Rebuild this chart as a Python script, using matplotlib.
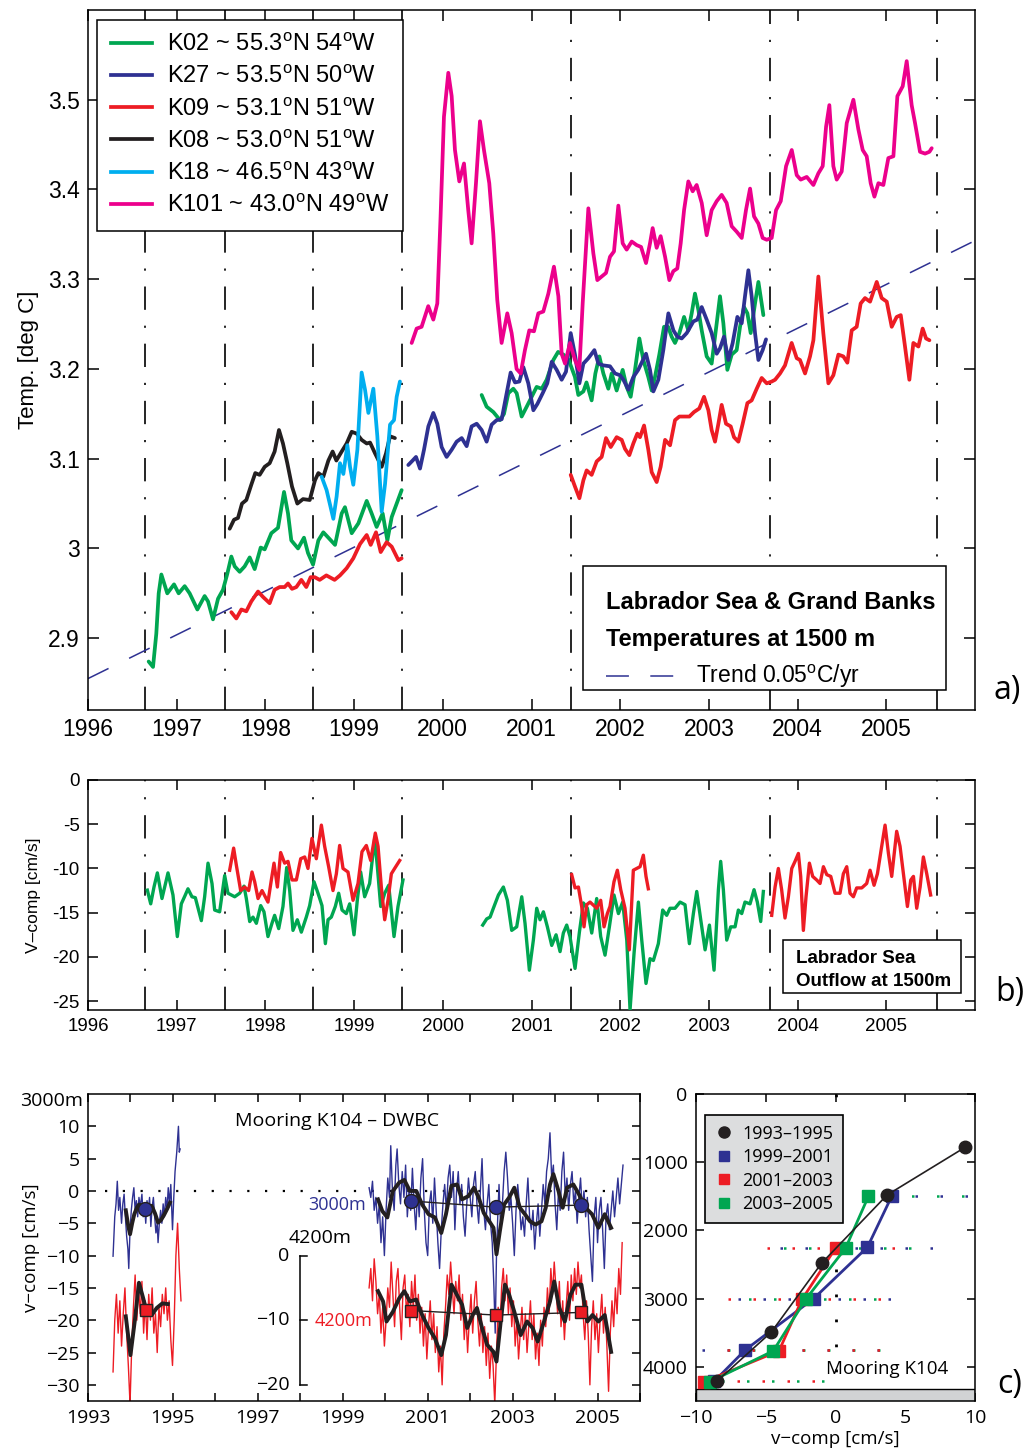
import numpy as np
import matplotlib
matplotlib.use('Agg')
import matplotlib.pyplot as plt
from matplotlib.lines import Line2D
from matplotlib.patches import Rectangle

plt.rcParams['font.family'] = ['Liberation Sans', 'DejaVu Sans']
plt.rcParams['mathtext.fontset'] = 'custom'
plt.rcParams['mathtext.rm'] = 'Liberation Sans'
plt.rcParams['mathtext.it'] = 'Liberation Sans:italic'
plt.rcParams['mathtext.bf'] = 'Liberation Sans:bold'
HUM = ['Open Sans', 'DejaVu Sans']

GREEN = '#00a651'; NAVY = '#2e3192'; RED = '#ed1c24'; BLACK = '#231f20'
CYAN = '#00aeef'; PINK = '#ec008c'

# ---------------- panel a: temperatures at 1500 m ----------------
K02_a = [(1996.684,2.874),(1996.733,2.868),(1996.77,2.905),(1996.797,2.950),(1996.827,2.971),(1996.894,2.950),
         (1996.97,2.960),(1997.022,2.950),(1997.09,2.958),(1997.146,2.950),(1997.233,2.932),(1997.315,2.947),
         (1997.353,2.941),(1997.409,2.921),(1997.466,2.944),(1997.522,2.954),(1997.571,2.972),(1997.616,2.991),
         (1997.654,2.980),(1997.71,2.974),(1997.766,2.980),(1997.823,2.990),(1997.879,2.977),(1997.947,3.001),
         (1997.992,2.999),(1998.067,3.017),(1998.142,3.023),(1998.21,3.063),(1998.255,3.039),(1998.292,3.009),
         (1998.368,3.000),(1998.435,3.012),(1998.48,2.995),(1998.537,2.982),(1998.597,3.009),(1998.653,3.018),
         (1998.71,3.012),(1998.785,3.004),(1998.86,3.039),(1998.897,3.046),(1998.973,3.017),(1999.048,3.028),
         (1999.142,3.053),(1999.198,3.039),(1999.254,3.024),(1999.322,3.039),(1999.375,3.009),(1999.424,3.035),
         (1999.48,3.050),(1999.536,3.065)]
K02_b = [(2000.438,3.171),(2000.494,3.158),(2000.57,3.152),(2000.645,3.143),(2000.69,3.150),(2000.739,3.173),
         (2000.795,3.178),(2000.833,3.173),(2000.889,3.147),(2000.946,3.158),(2001.002,3.169),(2001.058,3.180),
         (2001.115,3.178),(2001.171,3.188),(2001.246,3.210),(2001.30,3.219),(2001.36,3.216),(2001.42,3.210),
         (2001.49,3.191),(2001.528,3.171),(2001.585,3.175),(2001.62,3.185),(2001.678,3.165),(2001.72,3.195),
         (2001.765,3.214),(2001.81,3.195),(2001.866,3.178),(2001.904,3.195),(2001.96,3.176),(2002.028,3.199),
         (2002.073,3.180),(2002.118,3.169),(2002.167,3.199),(2002.216,3.234),(2002.261,3.210),(2002.317,3.191),
         (2002.355,3.176),(2002.392,3.191),(2002.441,3.216),(2002.494,3.247),(2002.54,3.247),(2002.58,3.236),
         (2002.618,3.229),(2002.667,3.240),(2002.72,3.258),(2002.768,3.243),(2002.806,3.262),(2002.843,3.284),
         (2002.881,3.266),(2002.919,3.243),(2002.975,3.214),(2003.031,3.206),(2003.088,3.251),(2003.125,3.281),
         (2003.163,3.251),(2003.208,3.199),(2003.257,3.216),(2003.313,3.221),(2003.351,3.247),(2003.396,3.269),
         (2003.434,3.262),(2003.471,3.240),(2003.52,3.273),(2003.558,3.297),(2003.595,3.273),(2003.614,3.260)]
K27 = [(1999.611,3.093),(1999.66,3.098),(1999.698,3.102),(1999.743,3.089),(1999.788,3.110),(1999.837,3.136),
       (1999.893,3.151),(1999.938,3.139),(1999.987,3.113),(2000.043,3.102),(2000.1,3.110),(2000.156,3.119),
       (2000.213,3.123),(2000.269,3.114),(2000.325,3.136),(2000.382,3.139),(2000.438,3.132),(2000.494,3.119),
       (2000.551,3.138),(2000.607,3.143),(2000.664,3.144),(2000.72,3.173),(2000.765,3.196),(2000.814,3.185),
       (2000.863,3.186),(2000.908,3.202),(2000.964,3.184),(2001.021,3.154),(2001.066,3.161),(2001.126,3.173),
       (2001.178,3.184),(2001.228,3.208),(2001.284,3.199),(2001.34,3.188),(2001.389,3.197),(2001.442,3.240),
       (2001.49,3.216),(2001.54,3.184),(2001.585,3.206),(2001.641,3.212),(2001.709,3.221),(2001.754,3.206),
       (2001.81,3.204),(2001.885,3.203),(2001.942,3.195),(2001.998,3.193),(2002.036,3.188),(2002.092,3.177),
       (2002.148,3.191),(2002.203,3.199),(2002.291,3.217),(2002.336,3.199),(2002.374,3.175),(2002.43,3.188),
       (2002.486,3.221),(2002.543,3.262),(2002.6,3.243),(2002.644,3.236),(2002.693,3.234),(2002.75,3.240),
       (2002.825,3.253),(2002.87,3.255),(2002.919,3.269),(2002.975,3.255),(2003.031,3.240),(2003.088,3.217),
       (2003.125,3.223),(2003.17,3.236),(2003.219,3.210),(2003.268,3.229),(2003.321,3.258),(2003.37,3.251),
       (2003.407,3.281),(2003.445,3.310),(2003.482,3.281),(2003.52,3.240),(2003.558,3.210),(2003.606,3.221),
       (2003.644,3.233)]
K09_a = [(1997.616,2.929),(1997.672,2.922),(1997.729,2.932),(1997.785,2.930),(1997.841,2.941),(1997.917,2.952),
         (1997.973,2.946),(1998.048,2.939),(1998.104,2.954),(1998.161,2.957),(1998.217,2.957),(1998.255,2.961),
         (1998.3,2.955),(1998.349,2.957),(1998.405,2.965),(1998.461,2.957),(1998.51,2.968),(1998.556,2.968),
         (1998.612,2.965),(1998.687,2.970),(1998.78,2.965),(1998.841,2.970),(1998.916,2.978),(1998.991,2.989),
         (1999.067,3.005),(1999.142,3.015),(1999.187,3.004),(1999.247,3.018),(1999.3,2.996),(1999.367,3.007),
         (1999.424,3.002),(1999.499,2.987),(1999.536,2.989)]
K09_b = [(2001.442,3.082),(2001.49,3.069),(2001.54,3.056),(2001.585,3.076),(2001.622,3.087),(2001.678,3.082),
         (2001.735,3.097),(2001.791,3.102),(2001.84,3.123),(2001.893,3.113),(2001.96,3.124),(2002.017,3.121),
         (2002.054,3.111),(2002.103,3.104),(2002.148,3.117),(2002.193,3.128),(2002.223,3.124),(2002.269,3.137),
         (2002.317,3.110),(2002.355,3.085),(2002.411,3.074),(2002.456,3.091),(2002.506,3.121),(2002.562,3.115),
         (2002.618,3.143),(2002.667,3.147),(2002.72,3.147),(2002.78,3.147),(2002.832,3.152),(2002.892,3.156),
         (2002.945,3.169),(2002.994,3.154),(2003.031,3.132),(2003.069,3.119),(2003.107,3.139),(2003.144,3.160),
         (2003.193,3.139),(2003.246,3.136),(2003.283,3.124),(2003.332,3.119),(2003.381,3.139),(2003.434,3.162),
         (2003.482,3.165),(2003.539,3.178),(2003.595,3.190),(2003.652,3.184),(2003.708,3.186),(2003.746,3.188),
         (2003.802,3.195),(2003.858,3.204),(2003.933,3.229),(2003.99,3.212),(2004.027,3.210),(2004.084,3.195),
         (2004.14,3.214),(2004.178,3.232),(2004.234,3.303),(2004.29,3.240),(2004.347,3.184),(2004.403,3.193),
         (2004.46,3.216),(2004.516,3.214),(2004.561,3.207),(2004.61,3.243),(2004.666,3.247),(2004.711,3.273),
         (2004.76,3.279),(2004.817,3.275),(2004.892,3.297),(2004.948,3.279),(2005.005,3.275),(2005.061,3.247),
         (2005.117,3.258),(2005.163,3.260),(2005.211,3.225),(2005.26,3.188),(2005.305,3.229),(2005.362,3.225),
         (2005.41,3.245),(2005.448,3.234),(2005.486,3.232)]
K08 = [(1997.597,3.022),(1997.646,3.032),(1997.691,3.034),(1997.736,3.050),(1997.785,3.054),(1997.841,3.071),
       (1997.886,3.084),(1997.935,3.082),(1997.992,3.091),(1998.048,3.095),(1998.104,3.108),(1998.153,3.132),
       (1998.198,3.117),(1998.247,3.095),(1998.3,3.069),(1998.36,3.050),(1998.424,3.055),(1998.5,3.054),
       (1998.559,3.076),(1998.597,3.084),(1998.653,3.080),(1998.71,3.098),(1998.758,3.108),(1998.8,3.098),
       (1998.86,3.108),(1998.916,3.117),(1998.973,3.130),(1999.029,3.128),(1999.085,3.121),(1999.142,3.117),
       (1999.18,3.118),(1999.236,3.106),(1999.311,3.091),(1999.36,3.106),(1999.405,3.125),(1999.46,3.123)]
K18 = [(1998.634,3.080),(1998.69,3.065),(1998.766,3.033),(1998.803,3.058),(1998.841,3.095),(1998.879,3.083),
       (1998.924,3.115),(1998.954,3.091),(1998.991,3.071),(1999.037,3.110),(1999.085,3.196),(1999.123,3.177),
       (1999.161,3.151),(1999.217,3.178),(1999.262,3.125),(1999.311,3.041),(1999.349,3.072),(1999.405,3.138),
       (1999.45,3.143),(1999.48,3.169),(1999.517,3.186)]
K101 = [(1999.649,3.229),(1999.705,3.245),(1999.761,3.247),(1999.836,3.270),(1999.893,3.255),(1999.938,3.273),
        (1999.975,3.370),(2000.013,3.481),(2000.062,3.530),(2000.1,3.504),(2000.137,3.444),(2000.186,3.409),
        (2000.239,3.429),(2000.287,3.377),(2000.325,3.340),(2000.374,3.407),(2000.419,3.476),(2000.464,3.444),
        (2000.524,3.407),(2000.569,3.351),(2000.614,3.277),(2000.663,3.229),(2000.727,3.262),(2000.776,3.240),
        (2000.832,3.200),(2000.878,3.195),(2000.926,3.221),(2000.975,3.243),(2001.028,3.242),(2001.077,3.262),
        (2001.133,3.264),(2001.19,3.284),(2001.253,3.314),(2001.303,3.281),(2001.34,3.217),(2001.378,3.206),
        (2001.434,3.229),(2001.49,3.210),(2001.539,3.199),(2001.577,3.273),(2001.641,3.379),(2001.697,3.329),
        (2001.742,3.299),(2001.791,3.303),(2001.84,3.307),(2001.885,3.325),(2001.93,3.331),(2001.979,3.382),
        (2002.028,3.340),(2002.073,3.333),(2002.13,3.342),(2002.186,3.338),(2002.235,3.336),(2002.291,3.318),
        (2002.336,3.340),(2002.366,3.357),(2002.411,3.335),(2002.456,3.348),(2002.506,3.325),(2002.554,3.299),
        (2002.599,3.309),(2002.644,3.312),(2002.682,3.340),(2002.72,3.377),(2002.768,3.409),(2002.817,3.398),
        (2002.862,3.405),(2002.919,3.385),(2002.975,3.349),(2003.031,3.377),(2003.088,3.387),(2003.144,3.394),
        (2003.2,3.385),(2003.257,3.359),(2003.313,3.353),(2003.37,3.346),(2003.418,3.377),(2003.464,3.401),
        (2003.509,3.370),(2003.558,3.362),(2003.606,3.346),(2003.652,3.344),(2003.708,3.346),(2003.757,3.377),
        (2003.81,3.387),(2003.87,3.426),(2003.934,3.444),(2003.99,3.416),(2004.035,3.411),(2004.103,3.414),
        (2004.178,3.405),(2004.234,3.418),(2004.283,3.426),(2004.321,3.470),(2004.358,3.494),(2004.403,3.426),
        (2004.441,3.411),(2004.497,3.420),(2004.554,3.474),(2004.629,3.500),(2004.685,3.467),(2004.734,3.444),
        (2004.779,3.437),(2004.824,3.407),(2004.866,3.392),(2004.911,3.407),(2004.967,3.405),(2005.023,3.435),
        (2005.08,3.437),(2005.125,3.504),(2005.185,3.515),(2005.23,3.543),(2005.286,3.494),(2005.324,3.474),
        (2005.38,3.442),(2005.437,3.440),(2005.486,3.442),(2005.512,3.446)]
A_LABELS = ['K02 ~ 55.3$^{\\rm o}$N 54$^{\\rm o}$W', 'K27 ~ 53.5$^{\\rm o}$N 50$^{\\rm o}$W',
            'K09 ~ 53.1$^{\\rm o}$N 51$^{\\rm o}$W', 'K08 ~ 53.0$^{\\rm o}$N 51$^{\\rm o}$W',
            'K18 ~ 46.5$^{\\rm o}$N 43$^{\\rm o}$W', 'K101 ~ 43.0$^{\\rm o}$N 49$^{\\rm o}$W']
TREND_T0 = 2.855      # deg C at 1996.0
TREND_RATE = 0.0488   # deg C per year
DEPLOY_YEARS = [1996.64, 1997.55, 1998.54, 1999.54, 2001.44, 2003.69, 2005.57]

# ---------------- panel b: v-comp at 1500 m ----------------
B_GREEN_a = [(1996.669,-12.45),(1996.707,-14.0),(1996.744,-12.1),(1996.782,-10.5),(1996.834,-13.4),(1996.902,-10.5),
             (1996.958,-13.0),(1997.007,-17.7),(1997.052,-14.0),(1997.097,-13.0),(1997.127,-12.3),(1997.172,-13.2),
             (1997.21,-13.3),(1997.278,-15.9),(1997.315,-13.2),(1997.353,-9.4),(1997.398,-11.7),(1997.428,-14.7),
             (1997.484,-14.9),(1997.541,-10.8),(1997.578,-12.8),(1997.654,-13.2),(1997.71,-12.8),(1997.759,-12.0),
             (1997.785,-13.4),(1997.823,-16.0),(1997.86,-15.5),(1997.898,-16.2),(1997.947,-14.2),(1997.984,-14.9),
             (1998.029,-17.7),(1998.074,-16.2),(1998.104,-15.3),(1998.15,-16.8),(1998.198,-14.3),(1998.24,-9.9),
             (1998.274,-12.5),(1998.311,-17.0),(1998.36,-15.8),(1998.405,-17.2),(1998.461,-15.5),(1998.499,-14.2),
             (1998.548,-11.5),(1998.593,-12.8),(1998.638,-14.2),(1998.676,-18.5),(1998.706,-15.8),(1998.743,-15.5),
             (1998.788,-14.3),(1998.826,-12.8),(1998.864,-14.7),(1998.912,-15.1),(1998.95,-14.0),(1998.999,-17.5),
             (1999.036,-13.6),(1999.074,-10.4),(1999.119,-13.2),(1999.175,-11.7),(1999.232,-6.6),(1999.262,-9.8),
             (1999.3,-14.3),(1999.345,-12.8),(1999.39,-11.9),(1999.45,-17.7),(1999.495,-14.3),(1999.551,-11.3)]
B_GREEN_b = [(2000.45,-16.4),(2000.495,-15.7),(2000.533,-15.5),(2000.57,-14.5),(2000.627,-13.0),(2000.683,-12.1),
             (2000.728,-13.6),(2000.777,-17.0),(2000.833,-16.6),(2000.89,-13.2),(2000.927,-16.2),(2000.976,-21.5),
             (2001.021,-18.1),(2001.059,-14.5),(2001.096,-15.8),(2001.134,-14.9),(2001.179,-16.6),(2001.228,-18.7),
             (2001.277,-17.5),(2001.322,-19.4),(2001.359,-17.3),(2001.397,-16.4),(2001.434,-17.7),(2001.491,-21.3),
             (2001.54,-17.2),(2001.585,-13.9),(2001.63,-14.5),(2001.679,-17.3),(2001.735,-13.4),(2001.78,-17.7),
             (2001.829,-19.8),(2001.878,-16.6),(2001.93,-13.0),(2001.98,-15.1),(2002.028,-13.8),(2002.074,-18.1),
             (2002.111,-26.0),(2002.156,-19.6),(2002.205,-13.8),(2002.243,-18.1),(2002.291,-23.0),(2002.336,-20.2),
             (2002.374,-20.4),(2002.43,-18.5),(2002.479,-14.7),(2002.524,-15.3),(2002.561,-14.5),(2002.618,-14.5),
             (2002.675,-13.8),(2002.731,-14.1),(2002.78,-18.5),(2002.825,-15.1),(2002.863,-12.6),(2002.908,-15.8),
             (2002.957,-19.2),(2003.006,-16.4),(2003.058,-21.5),(2003.107,-12.4),(2003.133,-9.2),(2003.163,-12.4),
             (2003.201,-18.1),(2003.246,-16.6),(2003.295,-16.6),(2003.332,-14.7),(2003.37,-15.1),(2003.407,-13.8),
             (2003.464,-14.0),(2003.509,-12.4),(2003.546,-13.8),(2003.584,-16.0),(2003.614,-12.6)]
B_RED_a = [(1997.597,-10.2),(1997.642,-7.7),(1997.672,-9.6),(1997.721,-12.5),(1997.766,-12.1),(1997.811,-12.5),
           (1997.849,-10.4),(1997.879,-11.5),(1997.917,-13.4),(1997.962,-12.5),(1998.029,-13.8),(1998.067,-11.3),
           (1998.097,-9.4),(1998.135,-12.1),(1998.172,-8.2),(1998.217,-9.4),(1998.255,-9.2),(1998.3,-11.3),
           (1998.349,-11.3),(1998.398,-8.9),(1998.443,-8.7),(1998.48,-10.0),(1998.525,-6.6),(1998.574,-8.9),
           (1998.631,-5.1),(1998.668,-7.5),(1998.713,-9.8),(1998.762,-12.5),(1998.8,-10.6),(1998.837,-7.4),
           (1998.875,-10.0),(1998.931,-10.4),(1998.988,-13.6),(1999.044,-11.7),(1999.089,-8.1),(1999.138,-7.4),
           (1999.187,-9.1),(1999.239,-6.0),(1999.27,-7.5),(1999.307,-12.1),(1999.345,-15.8),(1999.382,-13.6),
           (1999.42,-10.6),(1999.457,-10.0),(1999.514,-9.1)]
B_RED_b = [(2001.453,-10.7),(2001.491,-12.2),(2001.529,-12.1),(2001.566,-14.3),(2001.592,-16.6),(2001.622,-14.1),
           (2001.66,-13.8),(2001.735,-14.5),(2001.78,-13.6),(2001.818,-16.6),(2001.855,-15.1),(2001.885,-14.3),
           (2001.93,-11.5),(2001.968,-10.2),(2002.006,-12.4),(2002.054,-14.5),(2002.103,-19.2),(2002.148,-10.2),
           (2002.186,-10.0),(2002.224,-9.8),(2002.261,-8.5),(2002.291,-10.9),(2002.317,-12.3)]
B_RED_c = [(2003.708,-15.3),(2003.746,-12.1),(2003.783,-10.0),(2003.82,-12.4),(2003.858,-15.6),(2003.896,-13.2),
           (2003.934,-10.0),(2003.971,-9.2),(2004.009,-8.3),(2004.035,-10.9),(2004.065,-17.0),(2004.095,-13.2),
           (2004.133,-9.4),(2004.17,-10.9),(2004.215,-11.3),(2004.253,-11.7),(2004.291,-9.8),(2004.329,-10.7),
           (2004.374,-10.9),(2004.422,-12.8),(2004.478,-12.8),(2004.516,-10.6),(2004.554,-9.8),(2004.591,-12.8),
           (2004.629,-13.2),(2004.666,-12.2),(2004.723,-12.2),(2004.779,-11.7),(2004.817,-10.2),(2004.862,-11.9),
           (2004.9,-10.6),(2004.948,-7.5),(2004.986,-5.1),(2005.024,-8.3),(2005.061,-10.9),(2005.117,-5.8),
           (2005.155,-7.5),(2005.193,-10.6),(2005.238,-14.3),(2005.276,-11.3),(2005.306,-10.9),(2005.343,-14.5),
           (2005.381,-12.1),(2005.418,-8.7),(2005.456,-10.6),(2005.5,-13.0)]

# ---------------- panel c (left): mooring K104 time series ----------------
V3000_raw_a = [(1993.59,-10.1),(1993.63,-4),(1993.66,-2),(1993.69,1.5),(1993.72,-3),(1993.75,-1),(1993.79,-5),
               (1993.82,-2),(1993.85,-0.5),(1993.88,-4),(1993.91,-7),(1993.94,-9),(1993.96,-12),(1993.99,-6),
               (1994.02,-3),(1994.05,-1),(1994.08,0.5),(1994.11,-3),(1994.14,-1.5),(1994.17,-4),(1994.20,-1),
               (1994.23,-2.5),(1994.27,-0.5),(1994.30,-4),(1994.33,-2),(1994.36,-5),(1994.39,-1.5),(1994.42,-3),
               (1994.45,-1),(1994.48,-5.5),(1994.51,-2.5),(1994.54,-1),(1994.57,-4),(1994.60,-6.5),(1994.63,-5),
               (1994.65,-8),(1994.68,-5),(1994.71,-3),(1994.74,-5),(1994.77,-2),(1994.80,-4),(1994.83,-1),
               (1994.86,-3),(1994.89,0.5),(1994.92,-2),(1994.95,1),(1994.99,-6),(1995.02,-1),(1995.05,3),
               (1995.09,6),(1995.13,10),(1995.15,6),(1995.17,6.5)]
V3000_raw_b = [(1999.62,0.5),(1999.66,-1),(1999.70,1.5),(1999.74,-3),(1999.78,-1),(1999.82,-5),(1999.86,-2),
               (1999.90,-8),(1999.94,-4),(1999.98,-10),(2000.02,-3),(2000.06,2),(2000.10,-1),(2000.13,7),
               (2000.17,0),(2000.21,-3),(2000.25,4),(2000.28,6.5),(2000.32,1),(2000.36,-2),(2000.40,3),
               (2000.44,-1),(2000.48,4),(2000.52,-4),(2000.56,0),(2000.60,-3),(2000.64,3.5),(2000.68,-2),
               (2000.72,-6),(2000.76,0),(2000.80,-4),(2000.84,2),(2000.88,5),(2000.92,-3),(2000.96,-8),
               (2001.00,-10),(2001.04,-2),(2001.08,0),(2001.12,-5),(2001.16,2),(2001.20,-3),(2001.24,-8),
               (2001.28,-12),(2001.32,-6),(2001.36,-2),(2001.40,1),(2001.44,-3),(2001.48,2),(2001.52,4),
               (2001.56,-1),(2001.60,3),(2001.64,-6),(2001.68,0),(2001.72,3),(2001.76,-2),(2001.80,1),
               (2001.84,-4),(2001.88,-7),(2001.92,-2),(2001.96,2),(2002.00,-1),(2002.04,-4),(2002.08,1),
               (2002.12,3),(2002.16,-2),(2002.20,-5),(2002.24,0),(2002.28,5),(2002.32,-3),(2002.36,-6),
               (2002.40,-2),(2002.44,1),(2002.48,-5),(2002.52,-8),(2002.56,-15),(2002.59,-22),(2002.62,-10),
               (2002.65,-4),(2002.68,1),(2002.72,-6),(2002.76,-2),(2002.80,3),(2002.84,6),(2002.88,2),
               (2002.92,-3),(2002.96,-1),(2003.00,-5),(2003.04,-10),(2003.08,-3),(2003.12,1),(2003.16,-2),
               (2003.20,-6),(2003.24,-4),(2003.28,-7),(2003.32,-2),(2003.36,2),(2003.40,-4),(2003.44,-6),
               (2003.48,-3),(2003.52,-9),(2003.56,-5),(2003.60,-2),(2003.64,-7),(2003.68,-3),(2003.72,1),
               (2003.76,-2),(2003.80,3),(2003.84,5),(2003.88,9),(2003.92,2),(2003.96,4),(2004.00,-2),
               (2004.04,-6),(2004.08,0),(2004.12,-3),(2004.16,3),(2004.20,6),(2004.24,-1),(2004.28,2),
               (2004.32,-3),(2004.36,1),(2004.40,3),(2004.44,-2),(2004.48,0),(2004.52,-5),(2004.56,-1),
               (2004.60,2),(2004.64,-3),(2004.68,0),(2004.72,-4),(2004.76,-1),(2004.80,-6),(2004.84,-10),
               (2004.88,-14),(2004.92,-4),(2004.96,-1),(2005.00,-8),(2005.04,-3),(2005.08,-1),(2005.12,-6),
               (2005.16,-12),(2005.20,-4),(2005.24,-2),(2005.28,-6),(2005.32,-3),(2005.36,0),(2005.40,-4),
               (2005.44,-1),(2005.48,2),(2005.52,-2),(2005.56,1),(2005.60,4)]
V4200_raw_a = [(1993.59,-18),(1993.63,-10),(1993.67,-6),(1993.71,-12),(1993.75,-7),(1993.79,-14),(1993.83,-9),
               (1993.87,-5),(1993.91,-12),(1993.95,-17),(1993.99,-23),(1994.03,-14),(1994.07,-8),(1994.11,-3),
               (1994.15,-10),(1994.19,-5),(1994.23,-9),(1994.27,-4),(1994.31,-12),(1994.35,-7),(1994.39,-13),
               (1994.43,-6),(1994.47,-10),(1994.51,-5),(1994.55,-12),(1994.59,-9),(1994.63,-15),(1994.67,-8),
               (1994.71,-11),(1994.75,-6),(1994.79,-9),(1994.83,-5),(1994.87,-10),(1994.91,-7),(1994.95,-13),
               (1994.99,-17),(1995.03,-10),(1995.07,0),(1995.11,5),(1995.15,-2),(1995.19,-7)]
V4200_raw_b = [(1999.62,-5),(1999.66,-2),(1999.70,-7),(1999.74,-0.5),(1999.78,-4),(1999.82,-9),(1999.86,-6),
               (1999.90,-12),(1999.94,-8),(1999.98,-14),(2000.02,-10),(2000.06,-5),(2000.10,-8),(2000.14,-1),
               (2000.18,-6),(2000.22,-11),(2000.26,-4),(2000.30,-2),(2000.34,-8),(2000.38,-13),(2000.42,-5),
               (2000.46,-3),(2000.50,-9),(2000.54,-6),(2000.58,-11),(2000.62,-4),(2000.66,-8),(2000.70,-3),
               (2000.74,-10),(2000.78,-6),(2000.82,-12),(2000.86,-8),(2000.90,-14),(2000.94,-9),(2000.98,-16),
               (2001.02,-11),(2001.06,-7),(2001.10,-13),(2001.14,-9),(2001.18,-15),(2001.22,-11),(2001.26,-18),
               (2001.30,-14),(2001.34,-20),(2001.38,-12),(2001.42,-8),(2001.46,-3),(2001.50,-6),(2001.54,-1),
               (2001.58,-5),(2001.62,-9),(2001.66,-4),(2001.70,-7),(2001.74,-3),(2001.78,-10),(2001.82,-6),
               (2001.86,-13),(2001.90,-9),(2001.94,-15),(2001.98,-10),(2002.02,-6),(2002.06,-12),(2002.10,-7),
               (2002.14,-4),(2002.18,-10),(2002.22,-14),(2002.26,-9),(2002.30,-15),(2002.34,-11),(2002.38,-17),
               (2002.42,-12),(2002.46,-19),(2002.50,-14),(2002.54,-17),(2002.58,-23),(2002.62,-15),(2002.66,-8),
               (2002.70,-12),(2002.74,-5),(2002.78,-2),(2002.82,-7),(2002.86,-3),(2002.90,-9),(2002.94,-5),
               (2002.98,-11),(2003.02,-7),(2003.06,-14),(2003.10,-10),(2003.14,-16),(2003.18,-12),(2003.22,-8),
               (2003.26,-13),(2003.30,-9),(2003.34,-15),(2003.38,-11),(2003.42,-7),(2003.46,-13),(2003.50,-9),
               (2003.54,-16),(2003.58,-12),(2003.62,-17),(2003.66,-10),(2003.70,-14),(2003.74,-8),(2003.78,-11),
               (2003.82,-5),(2003.86,-9),(2003.90,-2),(2003.94,-6),(2003.98,-1),(2004.02,-5),(2004.06,-9),
               (2004.10,-4),(2004.14,-11),(2004.18,-7),(2004.22,-13),(2004.26,-8),(2004.30,-4),(2004.34,-10),
               (2004.38,-3),(2004.42,-7),(2004.46,-2),(2004.50,-6),(2004.54,-1),(2004.58,-5),(2004.62,-3),
               (2004.66,-9),(2004.70,-13),(2004.74,-7),(2004.78,-12),(2004.82,-20),(2004.86,-11),(2004.90,-7),
               (2004.94,-13),(2004.98,-9),(2005.02,-15),(2005.06,-10),(2005.10,-6),(2005.14,-12),(2005.18,-8),
               (2005.22,-14),(2005.26,-21),(2005.30,-12),(2005.34,-7),(2005.38,-11),(2005.42,-5),(2005.46,-9),
               (2005.50,-2),(2005.54,-6),(2005.58,2)]
V3000_smooth_a = [(1993.89,-3.0),(1993.95,-5.5),(1993.99,-6.7),(1994.04,-5.0),(1994.09,-3.6),(1994.15,-2.6),
                  (1994.2,-2.1),(1994.28,-2.3),(1994.35,-2.8),(1994.42,-2.5),(1994.5,-2.3),(1994.58,-3.5),
                  (1994.65,-4.9),(1994.72,-4.5),(1994.8,-3.6),(1994.87,-2.7),(1994.93,-1.8)]
V3000_smooth_b = [(1999.83,-1.3),(1999.93,-3.1),(2000.05,-4.1),(2000.18,0.0),(2000.33,1.3),(2000.45,1.7),
                  (2000.58,0.0),(2000.73,0.0),(2000.87,-2.1),(2001.02,-3.6),(2001.17,-4.1),(2001.32,-6.5),
                  (2001.43,-3.6),(2001.56,0.8),(2001.69,1.0),(2001.81,-1.3),(2001.96,-0.8),(2002.09,0.5),
                  (2002.2,-1.0),(2002.32,-3.4),(2002.45,-4.7),(2002.55,-5.7),(2002.62,-9.8),(2002.7,-6.2),
                  (2002.8,-2.1),(2002.92,-1.0),(2003.04,0.5),(2003.17,-2.6),(2003.29,-3.6),(2003.41,-4.7),
                  (2003.54,-5.2),(2003.68,-4.7),(2003.78,-2.6),(2003.88,1.0),(2003.96,2.6),(2004.08,0.0),
                  (2004.18,-2.6),(2004.28,0.5),(2004.43,1.0),(2004.56,-0.5),(2004.72,-2.6),(2004.87,-3.6),
                  (2005.02,-5.7),(2005.17,-3.6),(2005.32,-5.7)]
V4200_smooth_a = [(1993.89,-9.4),(1994.0,-15.4),(1994.1,-10.2),(1994.2,-4.2),(1994.3,-6.6),(1994.37,-8.4),
                  (1994.5,-9.2),(1994.62,-8.1),(1994.75,-7.4),(1994.88,-7.5)]
V4200_smooth_b = [(1999.83,-5.5),(1999.95,-7.1),(2000.03,-10.2),(2000.18,-8.7),(2000.33,-6.6),(2000.45,-5.5),
                  (2000.58,-7.1),(2000.73,-6.8),(2000.87,-9.2),(2001.02,-11.2),(2001.17,-12.8),(2001.32,-15.4),
                  (2001.43,-12.3),(2001.56,-4.5),(2001.69,-6.1),(2001.81,-7.6),(2001.93,-11.2),(2002.06,-9.2),
                  (2002.16,-8.1),(2002.28,-11.2),(2002.4,-13.8),(2002.55,-14.9),(2002.62,-16.4),(2002.72,-10.2),
                  (2002.82,-4.5),(2002.92,-6.1),(2003.04,-8.7),(2003.19,-12.3),(2003.34,-10.2),(2003.47,-11.2),
                  (2003.59,-13.3),(2003.74,-10.2),(2003.88,-7.1),(2003.98,-4.0),(2004.1,-8.1),(2004.23,-10.2),
                  (2004.36,-6.1),(2004.48,-4.5),(2004.62,-4.5),(2004.76,-10.2),(2004.88,-9.2),(2005.02,-10.2),
                  (2005.17,-9.2),(2005.32,-14.9)]
MEAN3000 = [(1994.35,-2.8),(2000.6,-1.55),(2002.6,-2.5),(2004.6,-2.2)]
MEAN4200 = [(1994.37,-8.4),(2000.6,-8.5),(2002.6,-9.2),(2004.6,-8.8)]
OFFSET_4200 = -10.0   # 4200 m record drawn 10 cm/s below the 3000 m record

# ---------------- panel c (right): mean profiles ----------------
PROF_PERIODS = ['1993\u20131995', '1999\u20132001', '2001\u20132003', '2003\u20132005']
PROF_1993 = [(9.3,780),(3.7,1480),(-1.0,2480),(-4.6,3490),(-8.5,4210)]
PROF_1999 = [(4.05,1490),(2.29,2245),(-1.57,3000),(-6.46,3750),(-8.7,4213)]
PROF_2001 = [(0.0,2260),(-2.4,3010),(-4.05,3765),(-9.4,4218)]
PROF_2003 = [(2.36,1500),(0.72,2260),(-2.1,3000),(-4.46,3765),(-9.0,4218)]
# spread (dotted) ranges: depth, color key, vmin, vmax
SPREAD = [(1500,'b',0.3,10.0),(1500,'g',0.6,10.0),
          (2250,'r',-5.6,4.5),(2250,'g',-5.0,6.0),(2250,'b',-4.0,8.2),
          (3000,'r',-8.4,4.5),(3000,'g',-7.5,4.5),(3000,'b',-7.0,4.5),
          (3750,'b',-9.6,4.6),(3750,'g',-9.0,4.6),(3750,'r',-8.5,4.0),
          (4213,'r',-9.6,0.0),(4213,'g',-9.4,0.0)]
BOTTOM_DEPTH = 4325


def arr(pairs):
    a = np.array(pairs, dtype=float)
    return a[:, 0], a[:, 1]


def matlab_style(ax, lw=1.1, length=6.0, size=16, family=None):
    ax.tick_params(which='both', direction='in', top=True, right=True, length=length, width=lw,
                   labelsize=size, pad=6)
    for s in ax.spines.values():
        s.set_linewidth(lw)
    if family is not None:
        for lab in ax.get_xticklabels() + ax.get_yticklabels():
            lab.set_family(family)


DASHDOT = (0, (14, 9.5, 1.3, 9.5))

fig = plt.figure(figsize=(10.36, 14.5), dpi=100)
W, H = 1036.0, 1450.0
axA = fig.add_axes([88/W, 1-710/H, 887/W, 700/H])
axB = fig.add_axes([88/W, 1-1010/H, 887/W, 230/H])
axC = fig.add_axes([88/W, 1-1401/H, 552/W, 307/H])
axD = fig.add_axes([696/W, 1-1401/H, 279/W, 307/H])

# ===== panel a =====
for yr in DEPLOY_YEARS:
    axA.axvline(yr, color='black', lw=1.2, ls=DASHDOT, zorder=1)
tt = np.array([1996.0, 2006.0])
axA.plot(tt, TREND_T0 + TREND_RATE*(tt-1996.0), color=NAVY, lw=1.1, ls=(0, (15, 15)), zorder=2)
series_a = [([K02_a, K02_b], GREEN), ([K27], NAVY), ([K09_a, K09_b], RED), ([K08], BLACK),
            ([K18], CYAN), ([K101], PINK)]
handles = []
for (segs, col), lab in zip(series_a, A_LABELS):
    for seg in segs:
        t, v = arr(seg)
        axA.plot(t, v, color=col, lw=2.7, solid_joinstyle='round', solid_capstyle='round', zorder=3)
    handles.append(Line2D([], [], color=col, lw=2.7, label=lab))
axA.set_xlim(1996, 2006)
axA.set_ylim(2.82, 3.6)
axA.set_xticks(range(1996, 2006))
axA.set_xticklabels([str(y) for y in range(1996, 2006)])
axA.set_yticks([2.9, 3.0, 3.1, 3.2, 3.3, 3.4, 3.5])
axA.set_yticklabels(['2.9', '3', '3.1', '3.2', '3.3', '3.4', '3.5'])
matlab_style(axA, size=16.5, length=8)
axA.set_ylabel('Temp. [deg C]', fontsize=16, labelpad=6)
leg = axA.legend(handles=handles, loc='upper left', bbox_to_anchor=(9/887, 1-10/700), borderaxespad=0,
                 fontsize=17, handlelength=1.75, handletextpad=0.6, labelspacing=0.42, borderpad=0.6,
                 fancybox=False, framealpha=1, edgecolor='black')
leg.get_frame().set_linewidth(1.1)
leg.set_zorder(6)
axA.add_patch(Rectangle((0.558, 0.0286), 0.409, 0.177, transform=axA.transAxes, facecolor='white',
                        edgecolor='black', lw=1.1, zorder=5))
axA.text(0.584, 0.153, 'Labrador Sea & Grand Banks', transform=axA.transAxes, fontsize=17,
         fontweight='bold', va='center', zorder=6)
axA.text(0.584, 0.101, 'Temperatures at 1500 m', transform=axA.transAxes, fontsize=17,
         fontweight='bold', va='center', zorder=6)
axA.plot([0.584, 0.663], [0.0486, 0.0486], transform=axA.transAxes, color=NAVY, lw=1.1,
         ls=(0, (15, 14)), zorder=6)
axA.text(0.685, 0.0486, 'Trend 0.05$^{\\rm o}$C/yr', transform=axA.transAxes, fontsize=16.5,
         va='center', zorder=6)

# ===== panel b =====
for yr in DEPLOY_YEARS:
    axB.axvline(yr, color='black', lw=1.2, ls=DASHDOT, zorder=1)
for seg in [B_GREEN_a, B_GREEN_b]:
    t, v = arr(seg)
    axB.plot(t, v, color=GREEN, lw=2.4, solid_joinstyle='round', zorder=3)
for seg in [B_RED_a, B_RED_b, B_RED_c]:
    t, v = arr(seg)
    axB.plot(t, v, color=RED, lw=2.4, solid_joinstyle='round', zorder=3)
axB.set_xlim(1996, 2006)
axB.set_ylim(-26, 0)
axB.set_xticks(range(1996, 2006))
axB.set_xticklabels([str(y) for y in range(1996, 2006)])
axB.set_yticks([0, -5, -10, -15, -20, -25])
axB.set_yticklabels(['0', '-5', '-10', '-15', '-20', '-25'])
matlab_style(axB, size=13.5, length=7)
axB.set_ylabel('V\u2013comp [cm/s]', fontsize=12.5, labelpad=8)
axB.add_patch(Rectangle((0.7835, 0.074), 0.2005, 0.230, transform=axB.transAxes, facecolor='white',
                        edgecolor='black', lw=1.1, zorder=5))
axB.text(0.798, 0.222, 'Labrador Sea', transform=axB.transAxes, fontsize=13.5, fontweight='bold',
         va='center', zorder=6)
axB.text(0.798, 0.126, 'Outflow at 1500m', transform=axB.transAxes, fontsize=13.5, fontweight='bold',
         va='center', zorder=6)

# ===== panel c left =====
axC.plot([1993.4, 2005.5], [0, 0], color='black', lw=1.6, ls=(0, (1, 7)), zorder=1)
for seg in [V3000_raw_a, V3000_raw_b]:
    t, v = arr(seg)
    axC.plot(t, v, color=NAVY, lw=1.0, zorder=2)
for seg in [V4200_raw_a, V4200_raw_b]:
    t, v = arr(seg)
    axC.plot(t, v + OFFSET_4200, color=RED, lw=1.0, zorder=2)
for seg in [V3000_smooth_a, V3000_smooth_b]:
    t, v = arr(seg)
    axC.plot(t, v, color=BLACK, lw=2.8, solid_joinstyle='round', zorder=3)
for seg in [V4200_smooth_a, V4200_smooth_b]:
    t, v = arr(seg)
    axC.plot(t, v + OFFSET_4200, color=BLACK, lw=2.8, solid_joinstyle='round', zorder=3)
t3, v3 = arr(MEAN3000)
t4, v4 = arr(MEAN4200)
axC.plot(t3[1:], v3[1:], color=BLACK, lw=1.0, zorder=4)
axC.plot(t4[1:], v4[1:] + OFFSET_4200, color=BLACK, lw=1.0, zorder=4)
axC.plot(t3, v3, ls='none', marker='o', ms=10, mfc=NAVY, mec=BLACK, mew=1.0, zorder=5)
axC.plot(t4, v4 + OFFSET_4200, ls='none', marker='s', ms=9, mfc=RED, mec=BLACK, mew=1.0, zorder=5)
# inner axis for the 4200 m record
ax_in_x = 1998.0
axC.plot([ax_in_x, ax_in_x], [0 + OFFSET_4200, -20 + OFFSET_4200], color='black', lw=1.1, zorder=4)
for val, lab in [(0, '0'), (-10, '\u221210'), (-20, '\u221220')]:
    axC.plot([ax_in_x, ax_in_x + 0.15], [val + OFFSET_4200]*2, color='black', lw=1.1, zorder=4)
    axC.text(ax_in_x - 0.25, val + OFFSET_4200, lab, ha='right', va='center', fontsize=14, family=HUM)
axC.text(1998.47, -7.25, '4200m', ha='center', va='center', fontsize=14, family=HUM)
axC.text(1999.54, -2.2, '3000m', ha='right', va='center', fontsize=13, color=NAVY, family=HUM)
axC.text(1999.71, -20.1, '4200m', ha='right', va='center', fontsize=13, color=RED, family=HUM)
axC.text(1998.87, 10.8, 'Mooring K104 \u2013 DWBC', ha='center', va='center', fontsize=14, family=HUM)
axC.set_xlim(1993, 2006)
axC.set_ylim(-32.5, 15)
axC.set_xticks(range(1993, 2006, 2))
axC.set_xticklabels([str(y) for y in range(1993, 2006, 2)])
axC.set_xticks(range(1994, 2007, 2), minor=True)
yt = [10, 5, 0, -5, -10, -15, -20, -25, -30]
axC.set_yticks(yt)
axC.set_yticklabels([str(v).replace('-', '\u2212') for v in yt])
matlab_style(axC, size=14, length=6, family=HUM)
axC.set_ylabel('v\u2212comp [cm/s]', fontsize=13.5, family=HUM, labelpad=4)
fig.text(52/W, 1-1101/H, '3000m', ha='center', va='center', fontsize=14, family=HUM)

# ===== panel c right =====
colmap = {'b': NAVY, 'g': GREEN, 'r': RED}
offs = {'b': 0, 'g': 3, 'r': 6}
for depth, key, lo, hi in SPREAD:
    axD.plot([lo, hi], [depth, depth], color=colmap[key], lw=1.8, ls=(offs[key], (1, 9)), zorder=1)
axD.plot([0, 0], [0, 4500], color='black', lw=2.0, ls=(0, (1, 8)), zorder=1)
axD.axhspan(BOTTOM_DEPTH, 4600, facecolor='#d1d3d4', edgecolor='black', lw=1.0, zorder=2)
for prof, col, mk, lw, ms in [(PROF_1999, NAVY, 's', 2.0, 8), (PROF_2001, RED, 's', 2.0, 8),
                              (PROF_2003, GREEN, 's', 2.0, 8), (PROF_1993, BLACK, 'o', 1.2, 9)]:
    v, d = arr(prof)
    axD.plot(v, d, color=col, lw=lw, marker=mk, ms=ms, mec=col, zorder=3)
axD.set_xlim(-10, 10)
axD.set_ylim(4500, 0)
axD.set_xticks([-10, -5, 0, 5, 10])
axD.set_xticklabels(['\u221210', '\u22125', '0', '5', '10'])
axD.set_yticks([0, 1000, 2000, 3000, 4000])
axD.set_yticklabels(['0', '1000', '2000', '3000', '4000'])
matlab_style(axD, size=14, length=6, family=HUM)
axD.set_xlabel('v\u2212comp [cm/s]', fontsize=13.5, family=HUM, labelpad=2)
axD.text(-0.7, 4030, 'Mooring K104', ha='left', va='center', fontsize=13.5, family=HUM, zorder=4)
hD = [Line2D([], [], ls='none', marker='o', color=BLACK, ms=8, label=PROF_PERIODS[0]),
      Line2D([], [], ls='none', marker='s', color=NAVY, ms=7, label=PROF_PERIODS[1]),
      Line2D([], [], ls='none', marker='s', color=RED, ms=7, label=PROF_PERIODS[2]),
      Line2D([], [], ls='none', marker='s', color=GREEN, ms=7, label=PROF_PERIODS[3])]
legD = axD.legend(handles=hD, loc='upper left', bbox_to_anchor=(0.032, 0.932), borderaxespad=0,
                  prop={'family': HUM, 'size': 13}, handlelength=1.0, handletextpad=0.5,
                  labelspacing=0.3, borderpad=0.55, fancybox=False, framealpha=1,
                  facecolor='#dcddde', edgecolor='black')
legD.get_frame().set_linewidth(1.2)
legD.set_zorder(6)

# panel labels
fig.text(1007/W, 1-690/H, 'a)', ha='center', va='center', fontsize=23, family=HUM)
fig.text(1010/W, 1-993/H, 'b)', ha='center', va='center', fontsize=23, family=HUM)
fig.text(1010/W, 1-1385/H, 'c)', ha='center', va='center', fontsize=23, family=HUM)

fig.savefig('out.png', dpi=100)
